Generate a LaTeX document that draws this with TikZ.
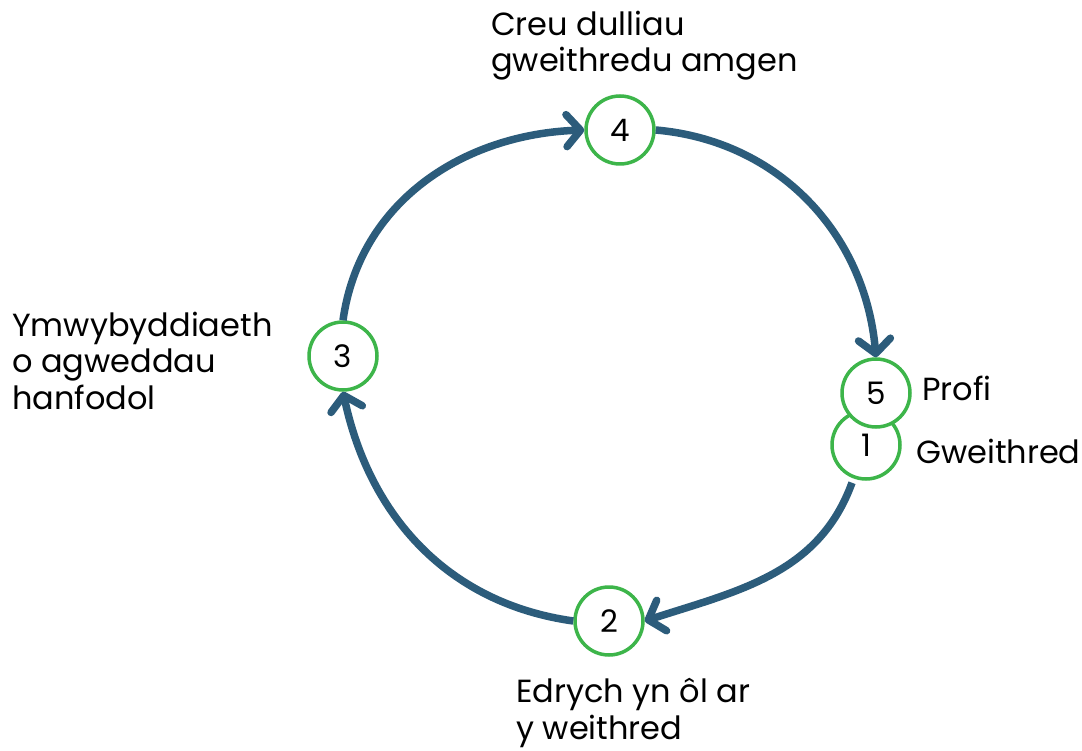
\documentclass[tikz,border=0pt]{standalone}
\usepackage{fontspec}
\setmainfont{Poppins}
\usetikzlibrary{arrows.meta}
\definecolor{arccol}{HTML}{2C5C7B}
\definecolor{grn}{HTML}{3DB54A}
\tikzset{
  num/.style={circle,draw=grn,line width=3.5pt,fill=white,minimum size=68pt,inner sep=0pt,font=\fontsize{31}{34}\selectfont},
  lbl/.style={align=left,anchor=base west,inner sep=0pt,font=\fontsize{32}{36.5}\selectfont},
  flow/.style={draw=arccol,line width=7.5pt,-{Straight Barb[length=14pt,width=32pt,round]}}
}
\begin{document}
\begin{tikzpicture}[x=1pt,y=-1pt]
\path[use as bounding box,fill=white] (0,0) rectangle (1082,751);
\node[num] (n4) at (620,130) {4};
\node[num] (n3) at (343,356) {3};
\node[num] (n1) at (866,445) {1};
\node[num] (n5) at (876,393) {5};
\node[num] (n2) at (609,621) {2};
\draw[flow] (n3.north) to[out=82,in=182] (n4.west);
\draw[flow] (n4.east) to[out=-5,in=95] (n5.north);
\draw[flow] ([xshift=-14pt,yshift=-2pt]n1.south) to[out=-110,in=18] (n2.east);
\draw[flow] (n2.west) to[out=172,in=-78] (n3.south);
\node[lbl] (t4) at (491,72) {Creu dulliau\\gweithredu amgen};
\node[lbl] (t3) at (12,409) {Ymwybyddiaeth\\o agweddau\\hanfodol};
\node[lbl] (t5) at (922,400) {Profi};
\node[lbl] (t1) at (916,463) {Gweithred};
\node[lbl] (t2) at (516,739) {Edrych yn ôl ar\\y weithred};
\end{tikzpicture}
\end{document}
